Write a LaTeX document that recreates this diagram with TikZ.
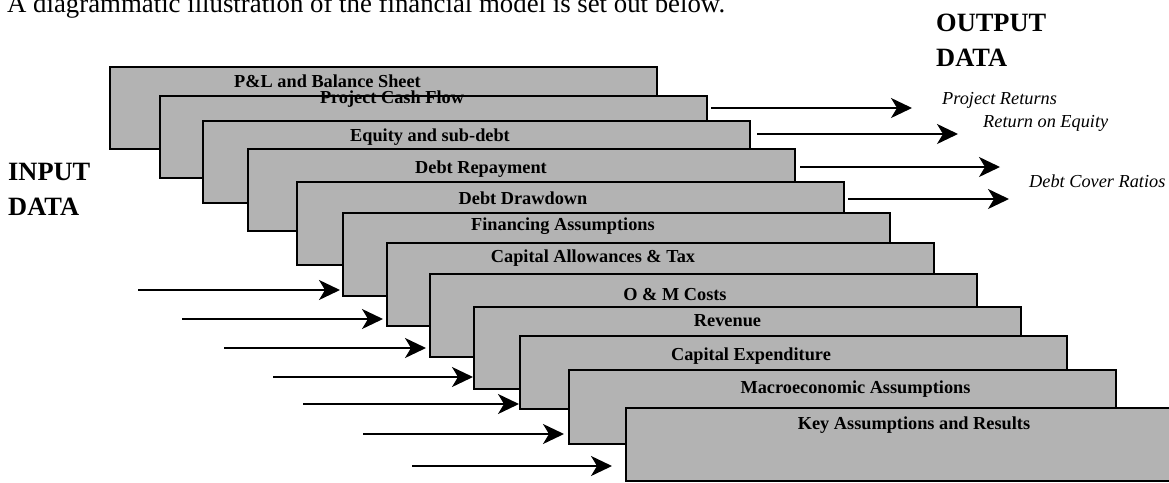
\documentclass[tikz,border=0pt]{standalone}
\usepackage{fontspec}
\setmainfont{Liberation Serif}
\usetikzlibrary{arrows.meta}
\definecolor{boxgray}{RGB}{179,179,179}
\begin{document}
\begin{tikzpicture}[x=1pt,y=-1pt,
  layer/.style={draw=black, line width=2.6pt, fill=boxgray, anchor=north west,
    minimum width=547pt, inner sep=0pt, outer sep=0pt},
  lbl/.style={font=\bfseries\fontsize{18.3}{20}\selectfont, anchor=base, inner sep=0pt},
  olbl/.style={font=\itshape\fontsize{18.3}{20}\selectfont, anchor=base west, inner sep=0pt},
  big/.style={font=\bfseries\fontsize{26.4}{30}\selectfont, anchor=base west, inner sep=0pt},
  intro/.style={font=\fontsize{26.8}{30}\selectfont, anchor=base west, inner sep=0pt},
  arr/.style={line width=2pt, -{Stealth[length=21pt,width=20pt,inset=6pt]}}]
\useasboundingbox (0,0) rectangle (1169,482);
\clip (0,0) rectangle (1169,482);

\node[intro] (introtext) at (7,12.5) {A diagrammatic illustration of the financial model is set out below.};

\node[big] (outa) at (936,31) {OUTPUT};
\node[big] (outb) at (936,66) {DATA};
\node[big] (ina) at (8,180) {INPUT};
\node[big] (inb) at (8,215) {DATA};

\node[layer, minimum height=82pt] (b1) at (110,67) {};
\node[lbl] (t1) at (327.5,87) {P\&L and Balance Sheet};
\node[layer, minimum height=82pt] (b2) at (160,96) {};
\node[lbl] (t2) at (392,103) {Project Cash Flow};
\node[layer, minimum height=82pt] (b3) at (203,121) {};
\node[lbl] (t3) at (430,141) {Equity and sub-debt};
\node[layer, minimum height=82pt] (b4) at (248,149) {};
\node[lbl] (t4) at (481,173) {Debt Repayment};
\node[layer, minimum height=83pt] (b5) at (297,182) {};
\node[lbl] (t5) at (523,204) {Debt Drawdown};
\node[layer, minimum height=83pt] (b6) at (343,213) {};
\node[lbl] (t6) at (563,230) {Financing Assumptions};
\node[layer, minimum height=83pt] (b7) at (387,243) {};
\node[lbl] (t7) at (593,262) {Capital Allowances \& Tax};
\node[layer, minimum height=83pt] (b8) at (430,274) {};
\node[lbl] (t8) at (675,300) {O \& M Costs};
\node[layer, minimum height=82pt] (b9) at (474,307) {};
\node[lbl] (t9) at (727.5,326) {Revenue};
\node[layer, minimum height=73pt] (b10) at (520,336) {};
\node[lbl] (t10) at (751,360) {Capital Expenditure};
\node[layer, minimum height=74pt] (b11) at (569,370) {};
\node[lbl] (t11) at (855.5,393) {Macroeconomic Assumptions};
\node[layer, minimum height=73pt] (b12) at (626,408) {};
\node[lbl] (t12) at (914,429) {Key Assumptions and Results};

% output arrows and labels
\coordinate (o1s) at (711,108); \coordinate (o1e) at (912,108);
\coordinate (o2s) at (757,134); \coordinate (o2e) at (958,134);
\coordinate (o3s) at (800,167); \coordinate (o3e) at (1000,167);
\coordinate (o4s) at (848,199); \coordinate (o4e) at (1009,199);
\draw[arr] (o1s) -- (o1e);
\draw[arr] (o2s) -- (o2e);
\draw[arr] (o3s) -- (o3e);
\draw[arr] (o4s) -- (o4e);
\node[olbl] (r1) at (942,104) {Project Returns};
\node[olbl] (r2) at (983,127) {Return on Equity};
\node[olbl] (r3) at (1029,187) {Debt Cover Ratios};

% input arrows
\coordinate (i1s) at (138,290); \coordinate (i1e) at (340,290);
\coordinate (i2s) at (182,319); \coordinate (i2e) at (383,319);
\coordinate (i3s) at (224,348); \coordinate (i3e) at (426,348);
\coordinate (i4s) at (273,377); \coordinate (i4e) at (473,377);
\coordinate (i5s) at (303,404); \coordinate (i5e) at (519,404);
\coordinate (i6s) at (363,434); \coordinate (i6e) at (564,434);
\coordinate (i7s) at (412,466); \coordinate (i7e) at (612,466);
\draw[arr] (i1s) -- (i1e);
\draw[arr] (i2s) -- (i2e);
\draw[arr] (i3s) -- (i3e);
\draw[arr] (i4s) -- (i4e);
\draw[arr] (i5s) -- (i5e);
\draw[arr] (i6s) -- (i6e);
\draw[arr] (i7s) -- (i7e);
\end{tikzpicture}
\end{document}
